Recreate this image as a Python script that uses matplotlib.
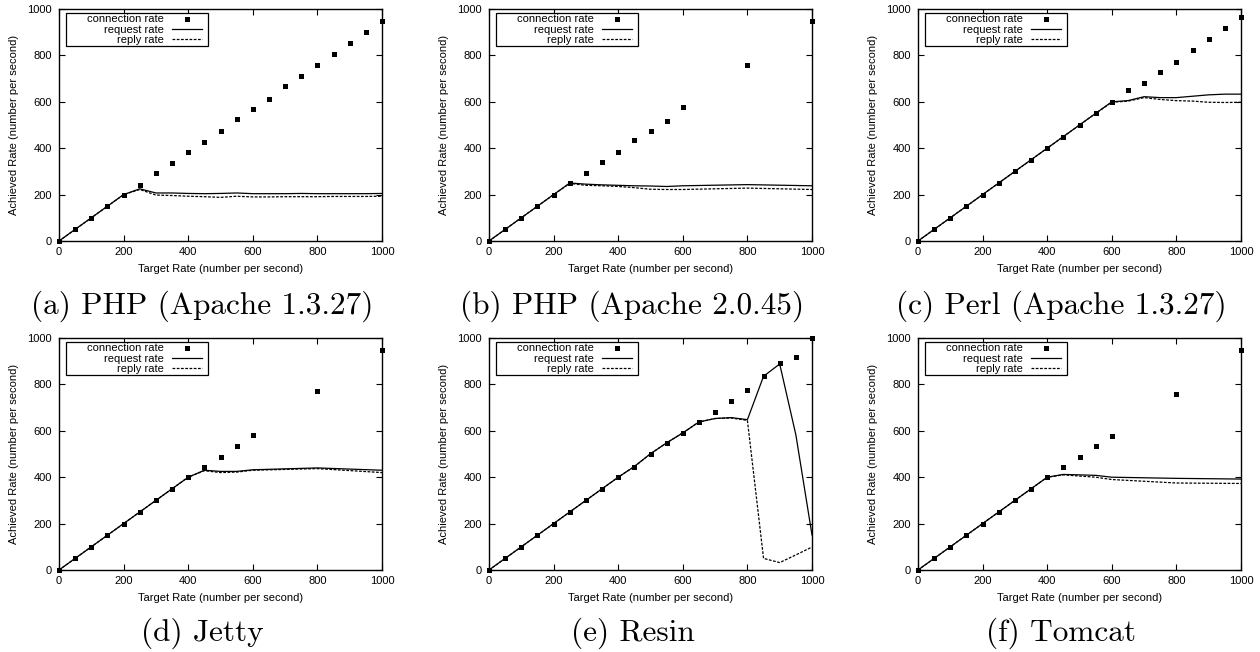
import matplotlib.pyplot as plt
from matplotlib.lines import Line2D
from matplotlib.patches import Rectangle

# target rates
x_all = [0, 50, 100, 150, 200, 250, 300, 350, 400, 450, 500,
         550, 600, 650, 700, 750, 800, 850, 900, 950, 1000]

# (a) PHP (Apache 1.3.27)
a_x = x_all
a_conn = [0, 50, 100, 150, 200, 243, 291, 338, 384, 427, 475,
          524, 570, 613, 666, 712, 757, 804, 852, 899, 947]
a_req = [0, 50, 100, 150, 200, 225, 207, 207, 205, 204, 205,
         207, 204, 204, 204, 205, 204, 204, 204, 204, 205]
a_rep = [0, 50, 100, 150, 200, 222, 198, 196, 193, 191, 188,
         193, 190, 190, 191, 191, 191, 192, 192, 192, 193]

# (b) PHP (Apache 2.0.45)
b_x = [0, 50, 100, 150, 200, 250, 300, 350, 400, 450, 500, 550, 600, 800, 1000]
b_conn = [0, 50, 100, 150, 200, 252, 291, 342, 384, 437, 472, 519, 576, 760, 947]
b_req = [0, 50, 100, 150, 200, 250, 245, 242, 240, 238, 237, 235, 238, 243, 238]
b_rep = [0, 50, 100, 150, 200, 248, 240, 238, 235, 230, 223, 222, 222, 228, 222]

# (c) Perl (Apache 1.3.27)
c_x = x_all
c_conn = [0, 50, 100, 150, 200, 250, 300, 350, 400, 450, 500,
          550, 600, 649, 679, 727, 773, 822, 869, 919, 964]
c_req = [0, 50, 100, 150, 200, 250, 300, 350, 400, 450, 500,
         550, 600, 605, 622, 618, 618, 624, 630, 633, 633]
c_rep = [0, 50, 100, 150, 200, 250, 300, 350, 400, 450, 500,
         550, 598, 603, 618, 610, 605, 603, 598, 597, 598]

# (d) Jetty
d_x = [0, 50, 100, 150, 200, 250, 300, 350, 400, 450, 500, 550, 600, 800, 1000]
d_conn = [0, 50, 100, 150, 200, 250, 300, 350, 400, 442, 488, 535, 583, 773, 950]
d_req = [0, 50, 100, 150, 200, 250, 300, 350, 400, 430, 425, 425, 432, 440, 430]
d_rep = [0, 50, 100, 150, 200, 250, 300, 350, 400, 428, 420, 422, 430, 437, 420]

# (e) Resin
e_x = x_all
e_conn = [0, 50, 100, 150, 200, 250, 300, 350, 400, 446, 501,
          548, 591, 639, 682, 729, 778, 837, 891, 919, 1000]
e_req = [0, 50, 100, 150, 200, 250, 300, 350, 400, 446, 501,
         548, 591, 638, 653, 657, 648, 835, 888, 583, 151]
e_rep = [0, 50, 100, 150, 200, 250, 300, 350, 400, 446, 501,
         548, 591, 638, 653, 655, 645, 50, 32, 65, 99]

# (f) Tomcat
f_x = [0, 50, 100, 150, 200, 250, 300, 350, 400, 450, 500, 550, 600, 800, 1000]
f_conn = [0, 50, 100, 150, 200, 250, 300, 350, 400, 442, 485, 535, 578, 760, 950]
f_req = [0, 50, 100, 150, 200, 250, 300, 350, 400, 412, 410, 408, 400, 395, 392]
f_rep = [0, 50, 100, 150, 200, 250, 300, 350, 400, 410, 405, 400, 390, 375, 373]

captions = ["(a) PHP (Apache 1.3.27)", "(b) PHP (Apache 2.0.45)",
            "(c) Perl (Apache 1.3.27)", "(d) Jetty", "(e) Resin", "(f) Tomcat"]
panels = [(a_x, a_conn, a_req, a_rep), (b_x, b_conn, b_req, b_rep),
          (c_x, c_conn, c_req, c_rep), (d_x, d_conn, d_req, d_rep),
          (e_x, e_conn, e_req, e_rep), (f_x, f_conn, f_req, f_rep)]

plt.rcParams['font.family'] = ['Liberation Sans', 'DejaVu Sans']

W, H = 1260, 652
fig = plt.figure(figsize=(W / 100, H / 100), dpi=100)

lefts = [59, 489, 918]
tops = [9, 338]
aw, ah = 323, 232
cap_base = [314, 641]
fs = 8

for i, (xs, conn, req, rep) in enumerate(panels):
    row, col = divmod(i, 3)
    l, t = lefts[col], tops[row]
    ax = fig.add_axes([l / W, 1 - (t + ah) / H, aw / W, ah / H])
    ax.plot(xs, req, color='black', lw=0.9)
    ax.plot(xs, rep, color='black', lw=0.9, dashes=(2.2, 1.2))
    ax.plot(xs, conn, 's', color='black', ms=3.6, mew=0, clip_on=False, zorder=3)
    ax.set_xlim(0, 1000)
    ax.set_ylim(0, 1000)
    ax.set_xticks(range(0, 1001, 200))
    ax.set_yticks(range(0, 1001, 200))
    ax.tick_params(direction='in', length=4, width=0.8, top=True, right=True,
                   labelsize=fs, colors='black')
    ax.tick_params(axis='x', pad=4.3)
    ax.tick_params(axis='y', pad=5)
    for s in ax.spines.values():
        s.set_linewidth(1.0)
    ax.set_xlabel("Target Rate (number per second)", fontsize=fs, labelpad=5)
    ax.set_ylabel("Achieved Rate (number per second)", fontsize=fs, labelpad=6)

    # legend box as in gnuplot: fixed frame, right-aligned keys
    ax.add_patch(Rectangle((7 / aw, 1 - 37 / ah), 142 / aw, 33 / ah,
                           transform=ax.transAxes, fill=True, facecolor='white',
                           edgecolor='black', lw=0.9, zorder=4))
    handles = [Line2D([], [], ls='none', marker='s', color='black', ms=3.6, mew=0),
               Line2D([], [], color='black', lw=0.9),
               Line2D([], [], color='black', lw=0.9, dashes=(2.2, 1.2))]
    leg = ax.legend(handles, ["connection rate", "request rate", "reply rate"],
                    loc='upper right', bbox_to_anchor=(143 / aw, 1 - 5.5 / ah),
                    markerfirst=False, fontsize=fs, frameon=False,
                    borderpad=0, labelspacing=0.03, handlelength=2.7,
                    handletextpad=0.7, borderaxespad=0)
    leg.set_zorder(5)

    fig.text((l + aw / 2 - 18) / W, 1 - cap_base[row] / H, captions[i],
             ha='center', va='baseline', fontsize=22.5, family='cmr10')

fig.savefig("out.png", dpi=100)
